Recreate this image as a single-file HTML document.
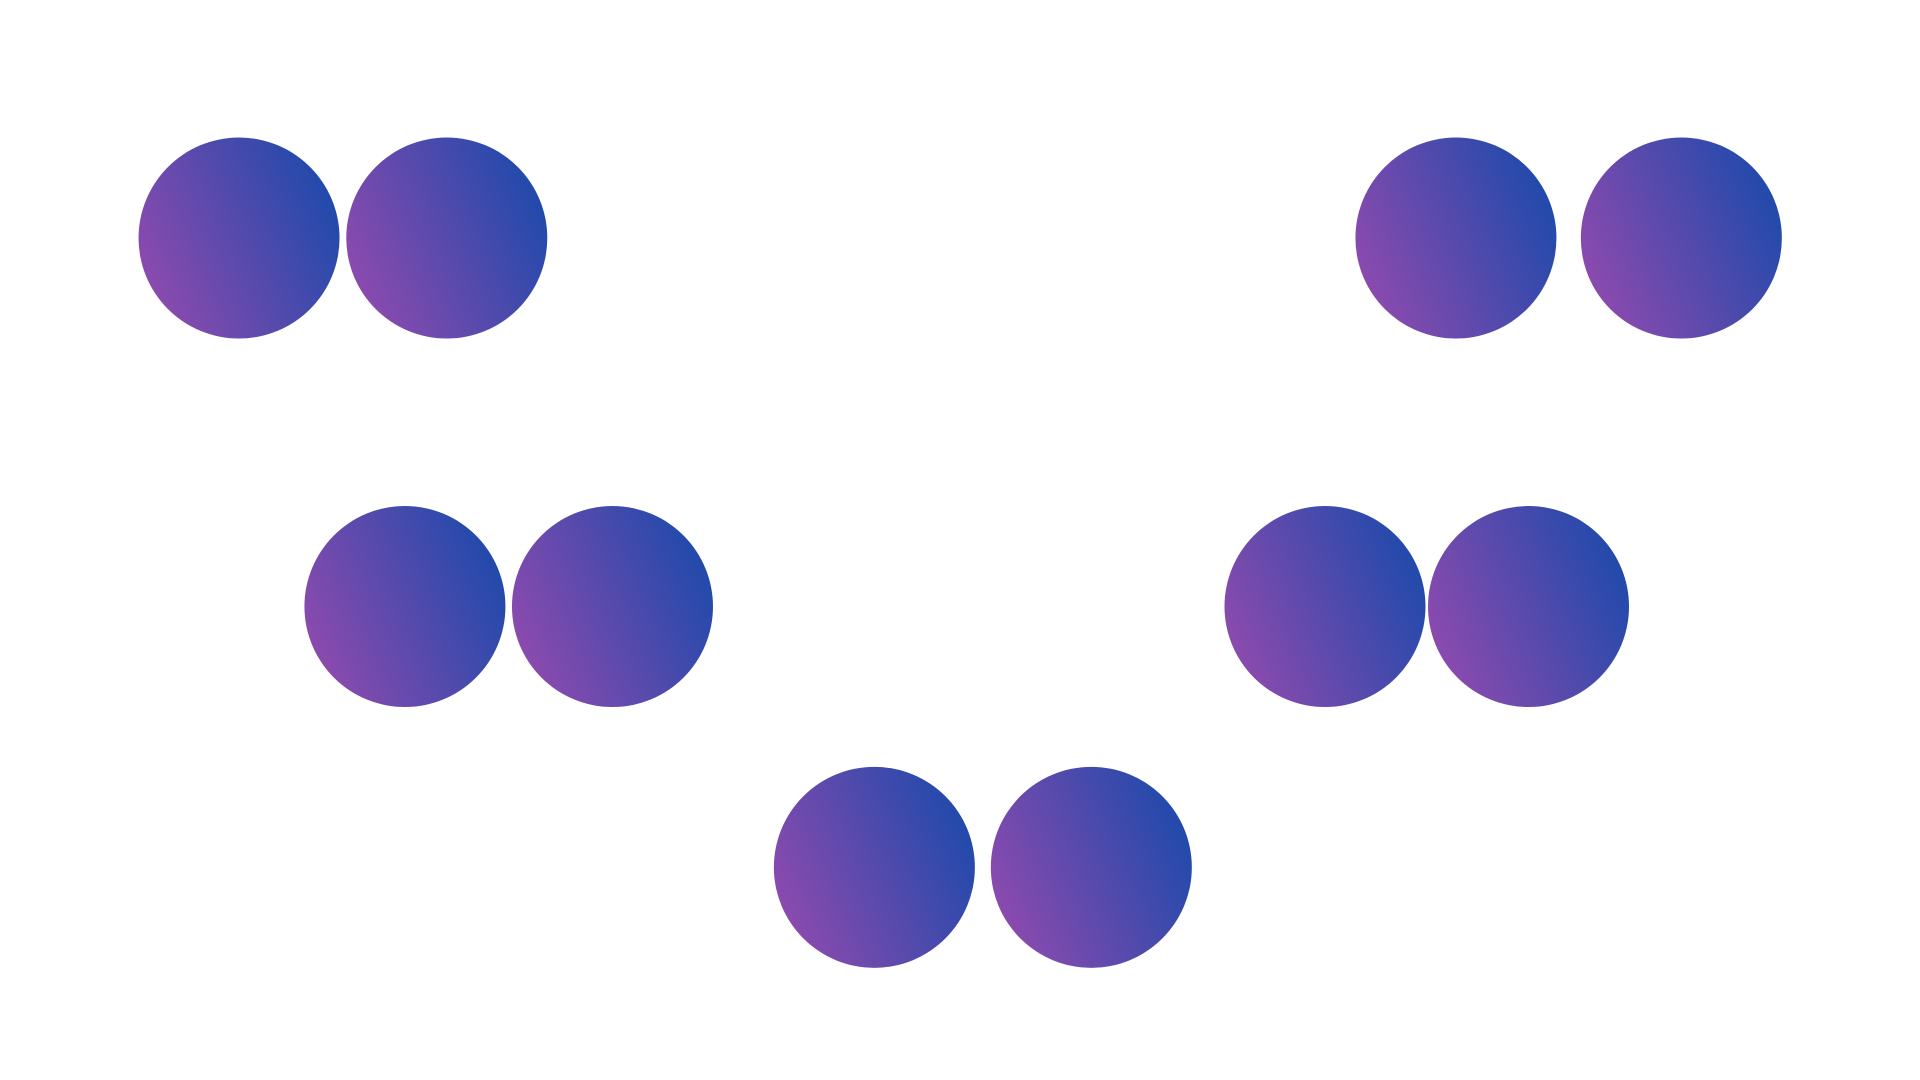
<!DOCTYPE html>
<html>
<head>
<meta charset="utf-8">
<style>
  html, body { margin: 0; padding: 0; background: #ffffff; }
  svg { display: block; }
</style>
</head>
<body>
<svg id="chart" width="1920" height="1080" viewBox="0 0 1920 1080" xmlns="http://www.w3.org/2000/svg">
  <defs>
    <linearGradient id="grad" x1="0" y1="0.72" x2="1" y2="0.28">
      <stop offset="0" stop-color="#8f4aae"/>
      <stop offset="1" stop-color="#1d4aab"/>
    </linearGradient>
  </defs>
  <rect x="0" y="0" width="1920" height="1080" fill="#ffffff"/>
  <g id="points"></g>
</svg>
<script>
// Data values (abstract units: x across 0..100, y down 0..100)
const pointNames = ['p1','p2','p3','p4','p5','p6','p7','p8','p9','p10'];
const xValues = [12.45, 23.27, 75.83, 87.57, 21.09, 31.90, 69.01, 79.61, 45.54, 56.84];
const yValues = [22.04, 22.04, 22.04, 22.04, 56.16, 56.16, 56.16, 56.16, 80.31, 80.31];
const radiusValue = 100.5;

const W = 1920, H = 1080;
function xScale(v) { return v / 100 * W; }
function yScale(v) { return v / 100 * H; }

const layer = document.getElementById('points');
const ns = 'http://www.w3.org/2000/svg';
for (let i = 0; i < xValues.length; i++) {
  const c = document.createElementNS(ns, 'circle');
  c.setAttribute('cx', xScale(xValues[i]));
  c.setAttribute('cy', yScale(yValues[i]));
  c.setAttribute('r', radiusValue);
  c.setAttribute('fill', 'url(#grad)');
  
  
  layer.appendChild(c);
}
</script>
</body>
</html>
